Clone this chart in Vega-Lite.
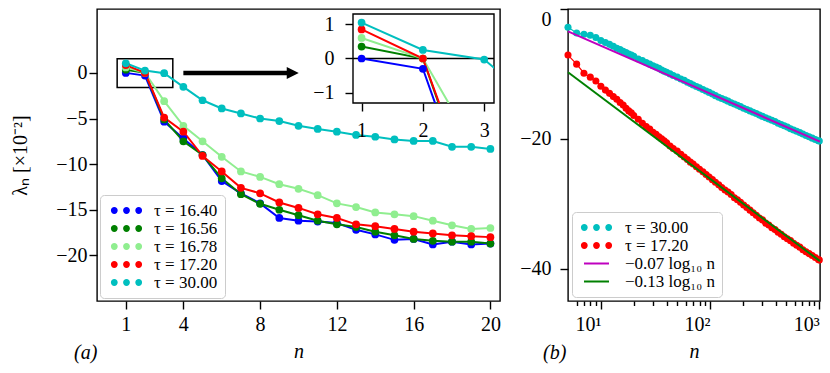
{
"$schema":"https://vega.github.io/schema/vega-lite/v6.json",
"background":"white",
"padding":{"left":10,"top":7,"right":0,"bottom":0},
"config":{
 "view":{"stroke":"black","strokeWidth":1.4},
 "axis":{"grid":false,"domain":false,"labelFont":"Liberation Serif","labelFontSize":20,"labelColor":"black","tickColor":"black","tickWidth":1.4,"tickSize":8,"titleFont":"Liberation Serif","titleFontSize":20,"titleFontWeight":"normal","titleColor":"black","labelFlush":false,"labelOverlap":false},
 "legend":{"labelFont":"Liberation Serif","labelFontSize":17,"labelColor":"black"},
 "title":{"font":"Liberation Serif","fontSize":20,"fontWeight":"normal","color":"black"}
},
"datasets":{
 "left":[
  {"tau":"τ = 16.40","n":1,"v":0},{"tau":"τ = 16.40","n":2,"v":-0.3},{"tau":"τ = 16.40","n":3,"v":-5.35},{"tau":"τ = 16.40","n":4,"v":-7.2},{"tau":"τ = 16.40","n":5,"v":-9.0},{"tau":"τ = 16.40","n":6,"v":-11.85},{"tau":"τ = 16.40","n":7,"v":-13.2},{"tau":"τ = 16.40","n":8,"v":-14.3},{"tau":"τ = 16.40","n":9,"v":-15.9},{"tau":"τ = 16.40","n":10,"v":-16.2},{"tau":"τ = 16.40","n":11,"v":-16.3},{"tau":"τ = 16.40","n":12,"v":-16.45},{"tau":"τ = 16.40","n":13,"v":-17.2},{"tau":"τ = 16.40","n":14,"v":-17.7},{"tau":"τ = 16.40","n":15,"v":-18.3},{"tau":"τ = 16.40","n":16,"v":-18.2},{"tau":"τ = 16.40","n":17,"v":-18.8},{"tau":"τ = 16.40","n":18,"v":-18.5},{"tau":"τ = 16.40","n":19,"v":-18.8},{"tau":"τ = 16.40","n":20,"v":-18.7},
  {"tau":"τ = 16.56","n":1,"v":0.35},{"tau":"τ = 16.56","n":2,"v":0.0},{"tau":"τ = 16.56","n":3,"v":-5.1},{"tau":"τ = 16.56","n":4,"v":-7.5},{"tau":"τ = 16.56","n":5,"v":-9.0},{"tau":"τ = 16.56","n":6,"v":-11.55},{"tau":"τ = 16.56","n":7,"v":-13.3},{"tau":"τ = 16.56","n":8,"v":-14.35},{"tau":"τ = 16.56","n":9,"v":-15.0},{"tau":"τ = 16.56","n":10,"v":-15.6},{"tau":"τ = 16.56","n":11,"v":-16.2},{"tau":"τ = 16.56","n":12,"v":-16.6},{"tau":"τ = 16.56","n":13,"v":-16.9},{"tau":"τ = 16.56","n":14,"v":-17.4},{"tau":"τ = 16.56","n":15,"v":-17.8},{"tau":"τ = 16.56","n":16,"v":-18.2},{"tau":"τ = 16.56","n":17,"v":-18.4},{"tau":"τ = 16.56","n":18,"v":-18.5},{"tau":"τ = 16.56","n":19,"v":-18.5},{"tau":"τ = 16.56","n":20,"v":-18.7},
  {"tau":"τ = 16.78","n":1,"v":0.6},{"tau":"τ = 16.78","n":2,"v":0.0},{"tau":"τ = 16.78","n":3,"v":-3.1},{"tau":"τ = 16.78","n":4,"v":-5.8},{"tau":"τ = 16.78","n":5,"v":-7.5},{"tau":"τ = 16.78","n":6,"v":-9.2},{"tau":"τ = 16.78","n":7,"v":-10.8},{"tau":"τ = 16.78","n":8,"v":-11.4},{"tau":"τ = 16.78","n":9,"v":-12.2},{"tau":"τ = 16.78","n":10,"v":-12.7},{"tau":"τ = 16.78","n":11,"v":-13.4},{"tau":"τ = 16.78","n":12,"v":-14.3},{"tau":"τ = 16.78","n":13,"v":-14.7},{"tau":"τ = 16.78","n":14,"v":-15.3},{"tau":"τ = 16.78","n":15,"v":-15.5},{"tau":"τ = 16.78","n":16,"v":-15.7},{"tau":"τ = 16.78","n":17,"v":-16.2},{"tau":"τ = 16.78","n":18,"v":-16.7},{"tau":"τ = 16.78","n":19,"v":-17.1},{"tau":"τ = 16.78","n":20,"v":-17.0},
  {"tau":"τ = 17.20","n":1,"v":0.85},{"tau":"τ = 17.20","n":2,"v":0.0},{"tau":"τ = 17.20","n":3,"v":-4.9},{"tau":"τ = 17.20","n":4,"v":-6.45},{"tau":"τ = 17.20","n":5,"v":-9.1},{"tau":"τ = 17.20","n":6,"v":-10.8},{"tau":"τ = 17.20","n":7,"v":-12.6},{"tau":"τ = 17.20","n":8,"v":-13.2},{"tau":"τ = 17.20","n":9,"v":-14.2},{"tau":"τ = 17.20","n":10,"v":-14.8},{"tau":"τ = 17.20","n":11,"v":-15.5},{"tau":"τ = 17.20","n":12,"v":-15.9},{"tau":"τ = 17.20","n":13,"v":-16.6},{"tau":"τ = 17.20","n":14,"v":-16.8},{"tau":"τ = 17.20","n":15,"v":-17.1},{"tau":"τ = 17.20","n":16,"v":-17.4},{"tau":"τ = 17.20","n":17,"v":-17.6},{"tau":"τ = 17.20","n":18,"v":-17.8},{"tau":"τ = 17.20","n":19,"v":-17.9},{"tau":"τ = 17.20","n":20,"v":-18.0},
  {"tau":"τ = 30.00","n":1,"v":1.05},{"tau":"τ = 30.00","n":2,"v":0.25},{"tau":"τ = 30.00","n":3,"v":-0.03},{"tau":"τ = 30.00","n":4,"v":-1.53},{"tau":"τ = 30.00","n":5,"v":-3.0},{"tau":"τ = 30.00","n":6,"v":-3.9},{"tau":"τ = 30.00","n":7,"v":-4.45},{"tau":"τ = 30.00","n":8,"v":-5.0},{"tau":"τ = 30.00","n":9,"v":-5.28},{"tau":"τ = 30.00","n":10,"v":-5.8},{"tau":"τ = 30.00","n":11,"v":-6.15},{"tau":"τ = 30.00","n":12,"v":-6.45},{"tau":"τ = 30.00","n":13,"v":-6.8},{"tau":"τ = 30.00","n":14,"v":-7.0},{"tau":"τ = 30.00","n":15,"v":-7.3},{"tau":"τ = 30.00","n":16,"v":-7.46},{"tau":"τ = 30.00","n":17,"v":-7.46},{"tau":"τ = 30.00","n":18,"v":-8.1},{"tau":"τ = 30.00","n":19,"v":-8.1},{"tau":"τ = 30.00","n":20,"v":-8.34}
 ],
 "right":[
  {"s":"τ = 30.00","n":5,"v":-2.8},{"s":"τ = 30.00","n":6,"v":-3.7},{"s":"τ = 30.00","n":7,"v":-3.9},{"s":"τ = 30.00","n":8,"v":-4.05},{"s":"τ = 30.00","n":9,"v":-4.4},{"s":"τ = 30.00","n":10,"v":-4.85},{"s":"τ = 30.00","n":11,"v":-5.15},{"s":"τ = 30.00","n":12,"v":-5.45},{"s":"τ = 30.00","n":13,"v":-5.75},{"s":"τ = 30.00","n":14,"v":-6.05},{"s":"τ = 30.00","n":15,"v":-6.25},{"s":"τ = 30.00","n":16,"v":-6.5},{"s":"τ = 30.00","n":17,"v":-6.7},{"s":"τ = 30.00","n":18,"v":-6.95},{"s":"τ = 30.00","n":19,"v":-7.1},{"s":"τ = 30.00","n":20,"v":-7.3},{"s":"τ = 30.00","n":22,"v":-7.7},{"s":"τ = 30.00","n":24,"v":-7.95},{"s":"τ = 30.00","n":26,"v":-8.25},{"s":"τ = 30.00","n":28,"v":-8.5},{"s":"τ = 30.00","n":30,"v":-8.75},{"s":"τ = 30.00","n":32,"v":-8.95},{"s":"τ = 30.00","n":34,"v":-9.15},{"s":"τ = 30.00","n":36,"v":-9.4},{"s":"τ = 30.00","n":38,"v":-9.6},{"s":"τ = 30.00","n":40,"v":-9.75},{"s":"τ = 30.00","n":43,"v":-10.0},{"s":"τ = 30.00","n":46,"v":-10.25},{"s":"τ = 30.00","n":50,"v":-10.5},{"s":"τ = 30.00","n":54,"v":-10.8},{"s":"τ = 30.00","n":58,"v":-11.0},{"s":"τ = 30.00","n":62,"v":-11.3},{"s":"τ = 30.00","n":66,"v":-11.5},{"s":"τ = 30.00","n":70,"v":-11.7},{"s":"τ = 30.00","n":75,"v":-11.95},{"s":"τ = 30.00","n":80,"v":-12.15},{"s":"τ = 30.00","n":86,"v":-12.4},{"s":"τ = 30.00","n":92,"v":-12.65},{"s":"τ = 30.00","n":98,"v":-12.85},{"s":"τ = 30.00","n":105,"v":-13.1},{"s":"τ = 30.00","n":112,"v":-13.35},{"s":"τ = 30.00","n":120,"v":-13.6},{"s":"τ = 30.00","n":128,"v":-13.8},{"s":"τ = 30.00","n":137,"v":-14.0},{"s":"τ = 30.00","n":146,"v":-14.2},{"s":"τ = 30.00","n":156,"v":-14.45},{"s":"τ = 30.00","n":167,"v":-14.65},{"s":"τ = 30.00","n":178,"v":-14.85},{"s":"τ = 30.00","n":190,"v":-15.05},{"s":"τ = 30.00","n":203,"v":-15.3},{"s":"τ = 30.00","n":217,"v":-15.5},{"s":"τ = 30.00","n":232,"v":-15.7},{"s":"τ = 30.00","n":248,"v":-15.9},{"s":"τ = 30.00","n":265,"v":-16.1},{"s":"τ = 30.00","n":283,"v":-16.35},{"s":"τ = 30.00","n":302,"v":-16.55},{"s":"τ = 30.00","n":323,"v":-16.75},{"s":"τ = 30.00","n":345,"v":-16.95},{"s":"τ = 30.00","n":368,"v":-17.15},{"s":"τ = 30.00","n":393,"v":-17.35},{"s":"τ = 30.00","n":420,"v":-17.6},{"s":"τ = 30.00","n":448,"v":-17.8},{"s":"τ = 30.00","n":478,"v":-18.0},{"s":"τ = 30.00","n":510,"v":-18.2},{"s":"τ = 30.00","n":545,"v":-18.45},{"s":"τ = 30.00","n":582,"v":-18.65},{"s":"τ = 30.00","n":621,"v":-18.85},{"s":"τ = 30.00","n":663,"v":-19.05},{"s":"τ = 30.00","n":708,"v":-19.25},{"s":"τ = 30.00","n":756,"v":-19.5},{"s":"τ = 30.00","n":807,"v":-19.7},{"s":"τ = 30.00","n":862,"v":-19.9},{"s":"τ = 30.00","n":920,"v":-20.1},{"s":"τ = 30.00","n":982,"v":-20.3},{"s":"τ = 30.00","n":1000,"v":-20.35},
  {"s":"τ = 17.20","n":5,"v":-7.1},{"s":"τ = 17.20","n":6,"v":-8.5},{"s":"τ = 17.20","n":7,"v":-9.9},{"s":"τ = 17.20","n":8,"v":-10.5},{"s":"τ = 17.20","n":9,"v":-11.1},{"s":"τ = 17.20","n":10,"v":-11.9},{"s":"τ = 17.20","n":11,"v":-12.5},{"s":"τ = 17.20","n":12,"v":-13.0},{"s":"τ = 17.20","n":13,"v":-13.5},{"s":"τ = 17.20","n":14,"v":-13.9},{"s":"τ = 17.20","n":15,"v":-14.4},{"s":"τ = 17.20","n":16,"v":-14.8},{"s":"τ = 17.20","n":17,"v":-15.3},{"s":"τ = 17.20","n":18,"v":-15.7},{"s":"τ = 17.20","n":19,"v":-16.0},{"s":"τ = 17.20","n":20,"v":-16.4},{"s":"τ = 17.20","n":22,"v":-17.0},{"s":"τ = 17.20","n":24,"v":-17.6},{"s":"τ = 17.20","n":26,"v":-18.1},{"s":"τ = 17.20","n":28,"v":-18.5},{"s":"τ = 17.20","n":30,"v":-19.0},{"s":"τ = 17.20","n":32,"v":-19.3},{"s":"τ = 17.20","n":34,"v":-19.7},{"s":"τ = 17.20","n":36,"v":-20.0},{"s":"τ = 17.20","n":38,"v":-20.3},{"s":"τ = 17.20","n":40,"v":-20.6},{"s":"τ = 17.20","n":43,"v":-21.1},{"s":"τ = 17.20","n":46,"v":-21.5},{"s":"τ = 17.20","n":50,"v":-21.9},{"s":"τ = 17.20","n":54,"v":-22.4},{"s":"τ = 17.20","n":58,"v":-22.8},{"s":"τ = 17.20","n":62,"v":-23.2},{"s":"τ = 17.20","n":66,"v":-23.6},{"s":"τ = 17.20","n":70,"v":-23.9},{"s":"τ = 17.20","n":75,"v":-24.3},{"s":"τ = 17.20","n":80,"v":-24.7},{"s":"τ = 17.20","n":86,"v":-25.1},{"s":"τ = 17.20","n":92,"v":-25.5},{"s":"τ = 17.20","n":98,"v":-25.9},{"s":"τ = 17.20","n":105,"v":-26.3},{"s":"τ = 17.20","n":112,"v":-26.7},{"s":"τ = 17.20","n":120,"v":-27.1},{"s":"τ = 17.20","n":128,"v":-27.5},{"s":"τ = 17.20","n":137,"v":-27.9},{"s":"τ = 17.20","n":146,"v":-28.2},{"s":"τ = 17.20","n":156,"v":-28.6},{"s":"τ = 17.20","n":167,"v":-29.1},{"s":"τ = 17.20","n":178,"v":-29.4},{"s":"τ = 17.20","n":190,"v":-29.8},{"s":"τ = 17.20","n":203,"v":-30.2},{"s":"τ = 17.20","n":217,"v":-30.6},{"s":"τ = 17.20","n":232,"v":-31.0},{"s":"τ = 17.20","n":248,"v":-31.4},{"s":"τ = 17.20","n":265,"v":-31.8},{"s":"τ = 17.20","n":283,"v":-32.2},{"s":"τ = 17.20","n":302,"v":-32.5},{"s":"τ = 17.20","n":323,"v":-33.0},{"s":"τ = 17.20","n":345,"v":-33.3},{"s":"τ = 17.20","n":368,"v":-33.7},{"s":"τ = 17.20","n":393,"v":-34.0},{"s":"τ = 17.20","n":420,"v":-34.4},{"s":"τ = 17.20","n":448,"v":-34.7},{"s":"τ = 17.20","n":478,"v":-35.1},{"s":"τ = 17.20","n":510,"v":-35.4},{"s":"τ = 17.20","n":545,"v":-35.7},{"s":"τ = 17.20","n":582,"v":-36.1},{"s":"τ = 17.20","n":621,"v":-36.4},{"s":"τ = 17.20","n":663,"v":-36.7},{"s":"τ = 17.20","n":708,"v":-37.1},{"s":"τ = 17.20","n":756,"v":-37.4},{"s":"τ = 17.20","n":807,"v":-37.7},{"s":"τ = 17.20","n":862,"v":-38.0},{"s":"τ = 17.20","n":920,"v":-38.3},{"s":"τ = 17.20","n":982,"v":-38.6},{"s":"τ = 17.20","n":1000,"v":-38.7}
 ],
 "fits":[
  {"s":"−0.07 log₁₀ n","n":5,"v":-3.45},{"s":"−0.07 log₁₀ n","n":1015,"v":-20.45},
  {"s":"−0.13 log₁₀ n","n":5,"v":-9.75},{"s":"−0.13 log₁₀ n","n":1015,"v":-38.85}
 ]
},
"concat":[
 {
  "concat":[
   {
    "width":403,"height":292,
    "title":{"text":"(a)","orient":"bottom","anchor":"start","frame":"group","dx":-23,"dy":-22,"fontStyle":"italic"},
    "resolve":{"scale":{"color":"independent"},"legend":{"color":"independent"}},
    "encoding":{
     "x":{"field":"n","type":"quantitative","scale":{"domain":[-0.5,20.5],"nice":false,"zero":false},"axis":{"values":[1,4,8,12,16,20],"title":"n","titleFontStyle":"italic","labelFont":"Liberation Serif","labelPadding":5,"titlePadding":7}},
     "y":{"field":"v","type":"quantitative","scale":{"domain":[-25,7],"nice":false,"zero":false},"axis":{"values":[-20,-15,-10,-5,0],"title":"λₙ [×10⁻²]","labelFont":"Liberation Serif","labelPadding":2,"titlePadding":25}}
    },
    "layer":[
     {"data":{"values":[{"n":0.55,"n2":3.45,"v":1.55,"v2":-1.6}]},"mark":{"type":"rect","filled":false,"color":"black","strokeWidth":1.5},"encoding":{"x2":{"field":"n2"},"y2":{"field":"v2"}}},
     {"data":{"values":[{"n":4.0,"n2":9.5,"v":0}]},"mark":{"type":"rule","color":"black","strokeWidth":4.5},"encoding":{"x2":{"field":"n2"}}},
     {"data":{"values":[{"n":9.7,"v":0}]},"mark":{"type":"point","shape":"M-1,-1L1,0L-1,1Z","filled":true,"color":"black","size":144,"opacity":1}},
     {"data":{"name":"left"},"mark":{"type":"line","strokeWidth":2},"encoding":{"color":{"field":"tau","type":"nominal","scale":{"domain":["τ = 16.40","τ = 16.56","τ = 16.78","τ = 17.20","τ = 30.00"],"range":["#0000ff","#008000","#90ee90","#ff0000","#00bfbf"]},"legend":null}}},
     {"data":{"name":"left"},"mark":{"type":"point","filled":true,"size":60,"opacity":1},"encoding":{"color":{"field":"tau","type":"nominal","scale":{"domain":["τ = 16.40","τ = 16.56","τ = 16.78","τ = 17.20","τ = 30.00"],"range":["#0000ff","#008000","#90ee90","#ff0000","#00bfbf"]},"legend":{"title":null,"orient":"bottom-left","offset":3,"symbolType":"M-1.76,0C-1.76,0.376 -2.064,0.68 -2.44,0.68C-2.816,0.68 -3.12,0.376 -3.12,0C-3.12,-0.376 -2.816,-0.68 -2.44,-0.68C-2.064,-0.68 -1.76,-0.376 -1.76,0ZM0.68,0C0.68,0.376 0.376,0.68 0,0.68C-0.376,0.68 -0.68,0.376 -0.68,0C-0.68,-0.376 -0.376,-0.68 0,-0.68C0.376,-0.68 0.68,-0.376 0.68,0ZM3.12,0C3.12,0.376 2.816,0.68 2.44,0.68C2.064,0.68 1.76,0.376 1.76,0C1.76,-0.376 2.064,-0.68 2.44,-0.68C2.816,-0.68 3.12,-0.376 3.12,0Z","symbolSize":100,"symbolStrokeWidth":0,"symbolOffset":11,"labelOffset":19,"padding":7,"rowPadding":0,"fillColor":"rgba(255,255,255,0.8)","strokeColor":"#cccccc","cornerRadius":4}}}}
    ]
   },
   {
    "width":141,"height":94,
    "view":{"fill":null,"stroke":null},
    "layer":[
     {"data":{"values":[{"n":0.86,"n2":3.16,"v":1.3,"v2":-1.3}]},"mark":{"type":"rect","fill":"white","stroke":"black","strokeWidth":1.4},"encoding":{
       "x":{"field":"n","type":"quantitative","scale":{"domain":[0.86,3.16],"nice":false,"zero":false},"axis":{"values":[1,2,3],"title":null,"labelFont":"Liberation Serif","labelPadding":9,"format":"d"}},
       "x2":{"field":"n2"},
       "y":{"field":"v","type":"quantitative","scale":{"domain":[-1.3,1.446],"nice":false,"zero":false},"axis":{"values":[-1,0,1],"title":null,"labelFont":"Liberation Serif","labelPadding":11,"format":"d"}},
       "y2":{"field":"v2"}}},
     {"data":{"values":[{"v":0}]},"mark":{"type":"rule","color":"black","strokeWidth":1.5},"encoding":{"y":{"field":"v","type":"quantitative"}}},
     {"data":{"name":"left"},"mark":{"type":"line","strokeWidth":2,"clip":true},"encoding":{
       "x":{"field":"n","type":"quantitative"},
       "y":{"field":"v","type":"quantitative"},
       "color":{"field":"tau","type":"nominal","scale":{"domain":["τ = 16.40","τ = 16.56","τ = 16.78","τ = 17.20","τ = 30.00"],"range":["#0000ff","#008000","#90ee90","#ff0000","#00bfbf"]},"legend":null}}},
     {"data":{"name":"left"},"mark":{"type":"point","filled":true,"size":60,"opacity":1,"clip":true},"encoding":{
       "x":{"field":"n","type":"quantitative"},
       "y":{"field":"v","type":"quantitative"},
       "color":{"field":"tau","type":"nominal","scale":{"domain":["τ = 16.40","τ = 16.56","τ = 16.78","τ = 17.20","τ = 30.00"],"range":["#0000ff","#008000","#90ee90","#ff0000","#00bfbf"]},"legend":null}}}
    ]
   }
  ],
  "columns":2,
  "spacing":-190,
  "align":"none",
  "resolve":{"scale":{"x":"independent","y":"independent","color":"independent","shape":"independent"},"legend":{"color":"independent","shape":"independent"}}
 },
 {
  "width":252,"height":292,
  "title":{"text":"(b)","orient":"bottom","anchor":"start","frame":"group","dx":-25,"dy":-22,"fontStyle":"italic"},
  "resolve":{"axis":{"x":"independent"},"scale":{"color":"independent","shape":"independent"},"legend":{"color":"independent","shape":"independent"}},
  "layer":[
   {"data":{"name":"right"},"mark":{"type":"line","strokeWidth":1.2},"encoding":{
     "x":{"field":"n","type":"quantitative","scale":{"type":"log","domain":[5,1015],"nice":false,"zero":false},"axis":{"orient":"bottom","values":[10,100,1000],"labelExpr":"datum.value == 10 ? '10¹' : datum.value == 100 ? '10²' : '10³'","title":"n","titleFontStyle":"italic","labelFont":"Liberation Serif","labelPadding":5,"titlePadding":7,"labelOffset":-13}},
     "y":{"field":"v","type":"quantitative","scale":{"domain":[-45,0],"nice":false,"zero":false},"axis":{"values":[-40,-20,0],"title":null,"labelFont":"Liberation Serif","labelPadding":9,"labelFlush":true}},
     "color":{"field":"s","type":"nominal","scale":{"domain":["τ = 30.00","τ = 17.20","−0.07 log₁₀ n","−0.13 log₁₀ n"],"range":["#00bfbf","#ff0000","#bf00bf","#008000"]},"legend":null}}},
   {"data":{"name":"right"},"mark":{"type":"point","filled":true,"size":50,"opacity":1},"encoding":{
     "x":{"field":"n","type":"quantitative","axis":{"orient":"bottom","values":[6,7,8,9,20,30,40,50,60,70,80,90,200,300,400,500,600,700,800,900],"labels":false,"tickSize":4.5,"title":null}},
     "y":{"field":"v","type":"quantitative"},
     "color":{"field":"s","type":"nominal","scale":{"domain":["τ = 30.00","τ = 17.20","−0.07 log₁₀ n","−0.13 log₁₀ n"],"range":["#00bfbf","#ff0000","#bf00bf","#008000"]},"legend":null}}},
   {"data":{"name":"fits"},"mark":{"type":"line","strokeWidth":2},"encoding":{
     "x":{"field":"n","type":"quantitative","axis":null},
     "y":{"field":"v","type":"quantitative"},
     "color":{"field":"s","type":"nominal","scale":{"domain":["τ = 30.00","τ = 17.20","−0.07 log₁₀ n","−0.13 log₁₀ n"],"range":["#00bfbf","#ff0000","#bf00bf","#008000"]},"legend":null}}},
   {"data":{"name":"fits"},"transform":[{"filter":"false"}],"mark":{"type":"point","filled":true,"opacity":1},"encoding":{
     "x":{"field":"n","type":"quantitative","axis":null},
     "y":{"field":"v","type":"quantitative"},
     "color":{"field":"s","type":"nominal","scale":{"domain":["τ = 30.00","τ = 17.20","−0.07 log₁₀ n","−0.13 log₁₀ n"],"range":["#00bfbf","#ff0000","#bf00bf","#008000"]},"legend":{"title":null,"orient":"bottom-left","offset":4,"symbolSize":100,"symbolStrokeWidth":0,"symbolOpacity":1,"symbolOffset":9,"labelOffset":20,"padding":7,"rowPadding":0,"fillColor":"rgba(255,255,255,0.8)","strokeColor":"#cccccc","cornerRadius":4}},
     "shape":{"field":"s","type":"nominal","scale":{"domain":["τ = 30.00","τ = 17.20","−0.07 log₁₀ n","−0.13 log₁₀ n"],"range":["M-1.76,0C-1.76,0.376 -2.064,0.68 -2.44,0.68C-2.816,0.68 -3.12,0.376 -3.12,0C-3.12,-0.376 -2.816,-0.68 -2.44,-0.68C-2.064,-0.68 -1.76,-0.376 -1.76,0ZM0.68,0C0.68,0.376 0.376,0.68 0,0.68C-0.376,0.68 -0.68,0.376 -0.68,0C-0.68,-0.376 -0.376,-0.68 0,-0.68C0.376,-0.68 0.68,-0.376 0.68,0ZM3.12,0C3.12,0.376 2.816,0.68 2.44,0.68C2.064,0.68 1.76,0.376 1.76,0C1.76,-0.376 2.064,-0.68 2.44,-0.68C2.816,-0.68 3.12,-0.376 3.12,0Z","M-1.76,0C-1.76,0.376 -2.064,0.68 -2.44,0.68C-2.816,0.68 -3.12,0.376 -3.12,0C-3.12,-0.376 -2.816,-0.68 -2.44,-0.68C-2.064,-0.68 -1.76,-0.376 -1.76,0ZM0.68,0C0.68,0.376 0.376,0.68 0,0.68C-0.376,0.68 -0.68,0.376 -0.68,0C-0.68,-0.376 -0.376,-0.68 0,-0.68C0.376,-0.68 0.68,-0.376 0.68,0ZM3.12,0C3.12,0.376 2.816,0.68 2.44,0.68C2.064,0.68 1.76,0.376 1.76,0C1.76,-0.376 2.064,-0.68 2.44,-0.68C2.816,-0.68 3.12,-0.376 3.12,0Z","M-2.5,-0.2L2.5,-0.2L2.5,0.2L-2.5,0.2Z","M-2.5,-0.2L2.5,-0.2L2.5,0.2L-2.5,0.2Z"]},"legend":{"title":null,"orient":"bottom-left","offset":4,"symbolSize":100,"symbolStrokeWidth":0,"symbolOpacity":1,"symbolOffset":9,"labelOffset":20,"padding":7,"rowPadding":0,"fillColor":"rgba(255,255,255,0.8)","strokeColor":"#cccccc","cornerRadius":4}}}}
  ]
 }
],
"columns":2,
"spacing":17,
"align":"none",
"resolve":{"scale":{"x":"independent","y":"independent","color":"independent","shape":"independent"},"legend":{"color":"independent","shape":"independent"}}
}
